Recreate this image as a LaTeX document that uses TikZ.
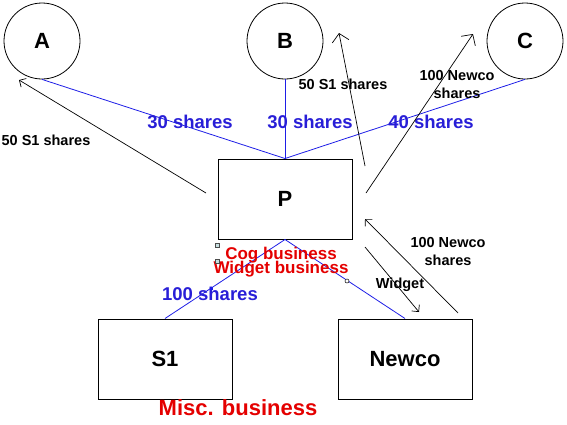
\documentclass[tikz,border=0pt]{standalone}
\usepackage{fontspec}
\setmainfont{Liberation Sans}
\usetikzlibrary{arrows.meta}
\definecolor{ownblue}{RGB}{30,30,230}
\definecolor{lblblue}{RGB}{40,30,215}
\definecolor{bizred}{RGB}{228,0,0}
\definecolor{handlefill}{RGB}{200,225,225}
\begin{document}
\begin{tikzpicture}[x=1pt,y=-1pt,
  circ/.style={draw, circle, minimum size=76pt, inner sep=0pt, line width=0.8pt,
    font=\fontsize{22}{24}\selectfont\bfseries},
  company/.style={draw, rectangle, minimum width=134pt, minimum height=80pt, inner sep=0pt,
    line width=1pt, font=\fontsize{22}{24}\selectfont\bfseries},
  ownline/.style={ownblue, line width=0.8pt},
  bluelbl/.style={text=lblblue, inner sep=0pt, font=\fontsize{18.5}{20}\selectfont\bfseries},
  blacklbl/.style={inner sep=0pt, align=center, font=\fontsize{14.5}{18}\selectfont\bfseries},
  redlbl/.style={text=bizred, inner sep=0pt, font=\fontsize{17}{18}\selectfont\bfseries},
  bigarr/.style={line width=0.7pt, -{Straight Barb[length=8pt,width=17pt,line width=0.7pt]}},
  smallarr/.style={line width=0.7pt, -{Straight Barb[length=5pt,width=10pt,line width=0.7pt]}},
  handle/.style={draw=black!70, fill=handlefill, line width=0.5pt}
]
\useasboundingbox (0,0) rectangle (567,424);

% shareholders
\node[circ] (A) at (42,41) {A};
\node[circ] (B) at (285,41) {B};
\node[circ] (C) at (525,41) {C};

% companies
\node[company] (P) at (285,199) {P};
\node[company] (S1) at (165,359) {S1};
\node[company] (Newco) at (405,359) {Newco};

% ownership lines
\draw[ownline] (A.south) -- (P.north);
\draw[ownline] (B.south) -- (P.north);
\draw[ownline] (C.south) -- (P.north);
\draw[ownline] (P.south) -- (S1.north);
\draw[ownline] (P.south) -- (Newco.north);

% ownership labels
\node[bluelbl] (l30a) at (190,122) {30 shares};
\node[bluelbl] (l30b) at (310,122) {30 shares};
\node[bluelbl] (l40c) at (431,122) {40 shares};
\node[bluelbl] (l100) at (210,294) {100 shares};

% transfer arrows
\coordinate (a1) at (206,193);
\coordinate (a2) at (19,80);
\coordinate (b1) at (365,166);
\coordinate (b2) at (339,33);
\coordinate (c1) at (366,193);
\coordinate (c2) at (473,34);
\coordinate (n1) at (458,313);
\coordinate (n2) at (365,219);
\coordinate (w1) at (365,247);
\coordinate (w2) at (419,312);
\draw[smallarr] (a1) -- (a2);
\draw[bigarr] (b1) -- (b2);
\draw[bigarr] (c1) -- (c2);
\draw[smallarr] (n1) -- (n2);
\draw[smallarr] (w1) -- (w2);

% transfer labels
\node[blacklbl] (t50a) at (46,140) {50 S1 shares};
\node[blacklbl] (t50b) at (343,84) {50 S1 shares};
\node[blacklbl] (t100c) at (457,85) {100 Newco\\shares};
\node[blacklbl] (t100n) at (448,252) {100 Newco\\shares};
\node[blacklbl] (tw) at (400,285) {Widget};

% businesses
\node[redlbl] (cog) at (281,255) {Cog business};
\node[redlbl] (wid) at (281,269) {Widget business};
\node[text=bizred, inner sep=0pt, font=\fontsize{22}{24}\selectfont\bfseries] (misc) at (238,408) {Misc. business};

% selection handles
\draw[handle] (215,243) rectangle (219,247);
\draw[handle] (215,259) rectangle (219,263);
\fill[ownblue] (209.5,286.5) rectangle (212.5,289.5);
\draw[fill=white, line width=0.5pt] (347,281) circle (2pt);
\end{tikzpicture}
\end{document}
